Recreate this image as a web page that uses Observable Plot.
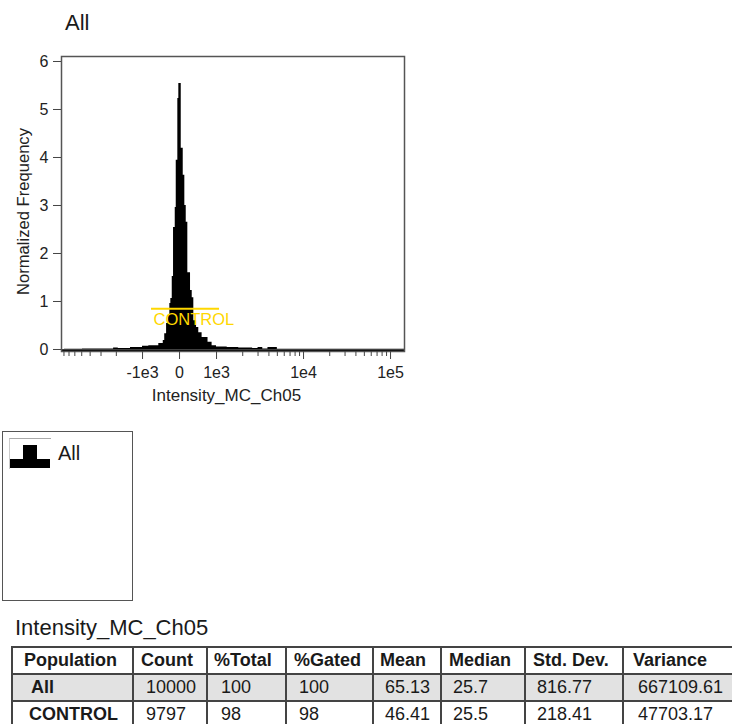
<!DOCTYPE html>
<html>
<head>
<meta charset="utf-8">
<script src="https://cdn.jsdelivr.net/npm/d3@7"></script>
<script src="https://cdn.jsdelivr.net/npm/@observablehq/plot@0.6"></script>
<style>
html,body{margin:0;padding:0;background:#fff;overflow:hidden;width:732px;height:724px;font-family:"Liberation Sans",Arial,sans-serif;color:#1a1a1a}
#chart{position:absolute;left:0;top:0}
.abs{position:absolute;white-space:nowrap}
table{position:absolute;left:11px;top:646px;border-collapse:collapse;table-layout:fixed;width:730px;font-size:18px}
td{border:2px solid #444;height:25px;padding:0;white-space:nowrap;overflow:hidden;line-height:25px}
</style>
</head>
<body>
<div id="chart"></div>
<div class="abs" style="left:65px;top:10px;font-size:22px;line-height:25px">All</div>
<div class="abs" style="left:2px;top:431px;width:128.5px;height:168px;border:1.5px solid #555"></div>
<div class="abs" style="left:9px;top:438px;width:41px;height:30px;border-top:1px solid #aaa;border-left:1px solid #ccc"></div>
<div class="abs" style="left:23px;top:445px;width:14px;height:14px;background:#000"></div>
<div class="abs" style="left:10px;top:459px;width:40px;height:9px;background:#000"></div>
<div class="abs" style="left:58px;top:441px;font-size:20px;line-height:24px">All</div>
<div class="abs" style="left:15px;top:615px;font-size:22px;line-height:25px">Intensity_MC_Ch05</div>
<div id="tbl"></div>
<script>
// Histogram of Intensity_MC_Ch05: left edge of each bin and its normalized frequency
const binEdge = [-7900,-4900,-3000,-2150,-1900,-1374,-1000,-830,-560,-440,-400,-350,-305,-262,-235,-197,-162,-116,-89,-46,-19,46,100,143,181,224,297,343,386,460,520,610,770,880,1000,1327,1800,2600,3000,3400,3900,4400,5000,148000];
const frequency = [0.005,0.01,0.01,0.03,0.02,0.04,0.07,0.08,0.125,0.19,0.33,0.54,0.71,0.96,1.06,1.52,2.54,2.96,3.94,5.23,5.54,4.19,3.63,3.0,2.65,1.6,1.23,1.08,0.6,0.46,0.35,0.25,0.15,0.08,0.05,0.04,0.03,0.02,0.04,0.01,0.04,0.04,0.005,0];

const yTicks = [0,1,2,3,4,5,6];
const xMajor = [-1000,0,1000,10000,100000];
const xMajorLabels = ["-1e3","0","1e3","1e4","1e5"];
const xMinor = [-8000,-7000,-6000,-5000,-4000,-3000,-2000,2000,3000,4000,5000,6000,7000,8000,9000,20000,30000,40000,50000,60000,70000,80000,90000];

const gateName = "CONTROL";
const gateFrom = -757, gateTo = 1083, gateLevel = 0.85;

const tableHeader = ["Population","Count","%Total","%Gated","Mean","Median","Std. Dev.","Variance"];
const rowAll = ["All","10000","100","100","65.13","25.7","816.77","667109.61"];
const rowControl = ["CONTROL","9797","98","98","46.41","25.5","218.41","47703.17"];

// Hyperlog-like display transform: linear within ±1e3, logarithmic beyond
const decade = 87/37;
const hyper = v => {
  const a = Math.abs(v);
  return Math.sign(v) * (a <= 1000 ? a/1000 : 1 + Math.log10(a/1000)*decade);
};

const bins = binEdge.map((x,i)=>({x, f: frequency[i]}));
const labelOf = new Map(xMajor.map((v,i)=>[v,xMajorLabels[i]]));
const ink = "#222";

const plot = Plot.plot({
  width: 732, height: 410,
  marginLeft: 61, marginRight: 328, marginTop: 56, marginBottom: 59,
  style: {fontFamily: '"Liberation Sans",Arial,sans-serif', fontSize: "16px", color: ink, background: "transparent"},
  x: {transform: hyper, domain: [-3.19, 6.08]},
  y: {domain: [-0.0417, 6.104]},
  marks: [
    Plot.areaY(bins, {x: "x", y: "f", y1: 0, curve: "step-after", fill: "#000"}),
    Plot.ruleY([-0.02], {stroke: "#000", strokeWidth: 2.5}),
    Plot.ruleY([gateLevel], {x1: gateFrom, x2: gateTo, stroke: "#FFD700", strokeWidth: 2}),
    Plot.text([gateName], {x: -703, y: 0.625, text: d => d, textAnchor: "start", fill: "#FFD700", fontSize: 16.5}),
    Plot.frame({stroke: "#555", strokeWidth: 1.5}),
    Plot.axisY(yTicks, {tickSize: 8, tickPadding: 5, fontSize: 16, stroke: "#444", label: null}),
    Plot.text(["Normalized Frequency"], {frameAnchor: "left", dx: -38, rotate: -90, text: d => d, fontSize: 16.6, fill: ink, textAnchor: "middle", y: 2.875}),
    Plot.axisX(xMinor, {tickSize: 5, tickFormat: () => "", stroke: "#444", label: null}),
    Plot.axisX(xMajor, {tickSize: 8, tickPadding: 7, fontSize: 16, stroke: "#444", tickFormat: d => labelOf.get(d), label: null}),
    Plot.text(["Intensity_MC_Ch05"], {frameAnchor: "bottom", dy: 49, x: 1300, text: d => d, fontSize: 17, fill: ink})
  ]
});
document.getElementById("chart").appendChild(plot);

// Table
const colWidth = [121,74,79,87,68,84,98,120];
const headPad = [11,7,6,7,6,7,7,9];
const cellPad = [[18,12,13,12,11,11,11,14],[16,12,13,12,11,11,11,14]];
const tbl = d3.select("#tbl").append("table");
tbl.append("colgroup").selectAll("col").data(colWidth).join("col").style("width", d=>d+"px");
tbl.append("tr").selectAll("td").data(tableHeader).join("td")
  .style("font-weight","bold").style("padding-left",(d,i)=>headPad[i]+"px").text(d=>d);
[rowAll,rowControl].forEach((row,r)=>{
  tbl.append("tr").style("background", r===0 ? "#e2e2e2" : "#fff").selectAll("td").data(row).join("td")
    .style("font-weight",(d,i)=>i===0?"bold":"normal")
    .style("padding-left",(d,i)=>cellPad[r][i]+"px").text(d=>d);
});
</script>
</body>
</html>
